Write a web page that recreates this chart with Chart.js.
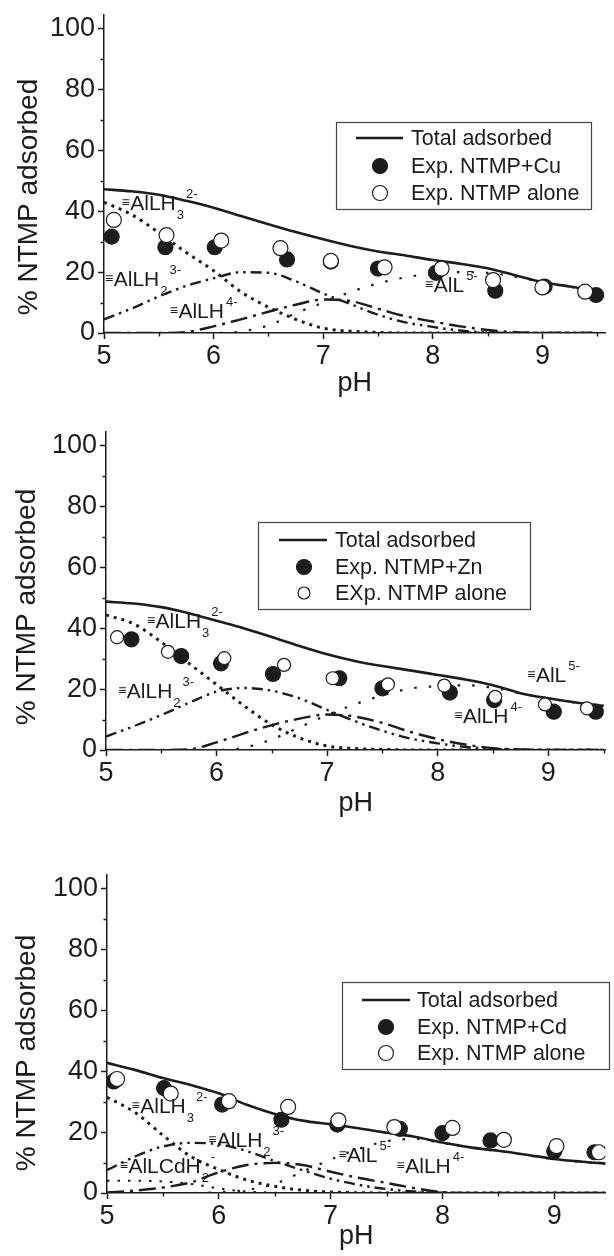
<!DOCTYPE html>
<html>
<head>
<meta charset="utf-8">
<script src="https://cdn.jsdelivr.net/npm/chart.js@4.4.1/dist/chart.umd.min.js"></script>
<style>
  body { margin: 0; background: #fff; }
  #page { position: relative; width: 614px; height: 1256px; overflow: hidden; background: #fff; }
  canvas { position: absolute; left: 0; }
</style>
</head>
<body>
<div id="page">
  <canvas id="cu"></canvas>
  <canvas id="zn"></canvas>
  <canvas id="cd"></canvas>
</div>
<script>
// pH grid used by the model curves
const pH = [5.0, 5.25, 5.5, 5.75, 6.0, 6.25, 6.5, 6.75, 7.0, 7.25, 7.5, 7.75, 8.0, 8.25, 8.5, 8.75, 9.0, 9.25, 9.5];

// --- Cu system ---
const cuTotal = [47.3, 46.6, 45.5, 43.5, 41.2, 38.5, 35.8, 33.2, 30.8, 28.6, 26.8, 25.5, 24.0, 22.8, 21.3, 19.0, 16.8, 15.3, 14.0];
const cuAlLH3 = [43.0, 39.0, 33.0, 26.5, 20.5, 13.5, 8.5, 4.5, 1.6, 0.6, 0.2, 0, 0, 0, 0, 0, 0, 0, 0];
const cuAlLH2 = [4.5, 8.0, 12.0, 15.5, 18.0, 20.0, 19.8, 17.0, 13.0, 9.5, 6.0, 3.5, 2.0, 0.8, 0.2, 0, 0, 0, 0];
const cuAlLH = [0, 0, 0, 0.3, 2.2, 4.5, 7.0, 9.3, 11.0, 10.5, 8.0, 5.5, 3.8, 2.2, 1.0, 0.3, 0, 0, 0];
const cuAlL = [0, 0, 0, 0, 0, 0.5, 2.5, 6.5, 10.0, 13.5, 16.3, 18.3, 19.5, 20.0, 19.8, 18.5, 16.7, 15.2, 14.0];
const cuExpPH = [5.07, 5.56, 6.01, 6.67, 7.07, 7.50, 8.03, 8.57, 9.02, 9.49];
const cuExp = [31.7, 28.2, 28.2, 24.2, 23.5, 21.2, 19.8, 13.9, 15.3, 12.5];
const cuAlonePH = [5.09, 5.57, 6.07, 6.61, 7.07, 7.56, 8.08, 8.55, 9.00, 9.39];
const cuAlone = [37.2, 32.2, 30.4, 27.9, 23.7, 21.6, 21.2, 17.4, 15.0, 13.6];
const cuLegend = ['Total adsorbed', 'Exp. NTMP+Cu', 'Exp. NTMP alone'];
const cuLabelBase = ['AlLH', 'AlLH', 'AlLH', 'AlL'];
const cuLabelSub = ['3', '2', '', ''];
const cuLabelSup = ['2-', '3-', '4-', '5-'];
const cuLabelPH = [5.16, 5.01, 5.60, 7.93];
const cuLabelPct = [40.5, 15.5, 4.9, 13.5];

// --- Zn system ---
const znTotal = [48.8, 48.2, 47.0, 45.0, 42.5, 40.0, 37.2, 34.2, 31.5, 29.3, 27.6, 26.2, 24.7, 23.2, 21.3, 18.7, 17.0, 15.6, 14.5];
const znAlLH3 = [44.4, 41.5, 35.5, 28.5, 21.5, 14.5, 8.3, 4.0, 1.3, 0.5, 0.2, 0, 0, 0, 0, 0, 0, 0, 0];
const znAlLH2 = [4.4, 7.8, 11.5, 15.5, 19.2, 20.4, 19.5, 17.0, 13.2, 9.5, 6.3, 3.8, 2.2, 1.0, 0.4, 0.1, 0, 0, 0];
const znAlLH = [0, 0, 0, 0.2, 2.5, 5.5, 8.2, 10.3, 11.7, 11.0, 8.9, 6.0, 3.6, 1.8, 0.6, 0.2, 0, 0, 0];
const znAlL = [0, 0, 0, 0, 0, 0.8, 3.5, 7.5, 11.5, 15.0, 18.0, 20.2, 21.0, 21.3, 20.5, 18.6, 17.0, 15.6, 14.5];
const znExpPH = [5.23, 5.68, 6.04, 6.51, 7.11, 7.50, 8.11, 8.51, 9.05, 9.43];
const znExp = [36.4, 30.9, 28.5, 25.0, 23.6, 20.3, 18.9, 16.4, 12.6, 12.6];
const znAlonePH = [5.10, 5.56, 6.07, 6.61, 7.05, 7.55, 8.06, 8.52, 8.97, 9.35];
const znAlone = [37.1, 32.3, 30.2, 28.0, 23.6, 21.6, 21.2, 17.5, 15.0, 13.7];
const znLegend = ['Total adsorbed', 'Exp. NTMP+Zn', 'EXp. NTMP alone'];
const znLabelBase = ['AlLH', 'AlLH', 'AlL', 'AlLH'];
const znLabelSub = ['3', '2', '', ''];
const znLabelSup = ['2-', '3-', '5-', '4-'];
const znLabelPH = [5.37, 5.11, 8.81, 8.15];
const znLabelPct = [40.1, 17.1, 22.4, 8.9];

// --- Cd system ---
const cdTotal = [42.8, 40.5, 37.8, 35.5, 32.8, 29.0, 26.0, 23.8, 22.6, 21.3, 19.8, 18.5, 16.6, 15.0, 13.9, 12.6, 11.2, 10.3, 9.6];
const cdAlLH3 = [31.5, 26.5, 19.0, 12.0, 7.7, 4.3, 2.2, 0.9, 0.3, 0.1, 0, 0, 0, 0, 0, 0, 0, 0, 0];
const cdAlLH2 = [7.5, 12.0, 15.3, 16.5, 16.0, 13.8, 10.5, 7.5, 4.7, 2.7, 1.3, 0.5, 0.1, 0, 0, 0, 0, 0, 0];
const cdAlLH = [0.2, 0.8, 1.8, 3.5, 6.8, 9.2, 9.9, 9.2, 7.0, 5.0, 3.3, 1.6, 0.3, 0, 0, 0, 0, 0, 0];
const cdAlL = [0, 0, 0, 0, 0.3, 1.0, 3.0, 7.0, 11.0, 14.5, 17.0, 17.8, 16.4, 15.0, 13.8, 12.5, 11.1, 10.2, 9.5];
const cdAlLCdH2 = [4.0, 4.0, 3.8, 3.0, 1.5, 0.5, 0.1, 0, 0, 0, 0, 0, 0, 0, 0, 0, 0, 0, 0];
const cdExpPH = [5.06, 5.51, 6.03, 6.56, 7.06, 7.62, 8.00, 8.43, 9.00, 9.36];
const cdExp = [36.7, 34.5, 29.1, 24.1, 22.5, 21.1, 19.7, 17.3, 13.7, 13.4];
const cdAlonePH = [5.09, 5.57, 6.09, 6.62, 7.07, 7.57, 8.09, 8.55, 9.02, 9.40];
const cdAlone = [37.5, 32.7, 30.2, 28.3, 23.9, 21.7, 21.4, 17.5, 15.4, 13.4];
const cdLegend = ['Total adsorbed', 'Exp. NTMP+Cd', 'Exp. NTMP alone'];
const cdLabelBase = ['AlLH', 'AlLH', 'AlLCdH', 'AlL', 'AlLH'];
const cdLabelSub = ['3', '2', '2', '', ''];
const cdLabelSup = ['2-', '3-', '-', '5-', '4-'];
const cdLabelPH = [5.22, 5.905, 5.114, 7.07, 7.59];
const cdLabelPct = [26.3, 15.1, 6.6, 10.2, 6.6];

const yTicks = [0, 20, 40, 60, 80, 100];
const yMinor = [10, 30, 50, 70, 90];
const xMinor = [5.5, 6.5, 7.5, 8.5, 9.5];

const INK = '#1c1c1c';
const FONT = "'Liberation Sans', Arial, sans-serif";
const PAD_TOP = 30;

// line styles for the species curves
const STYLE = {
  total: { dash: [], width: 2.6 },
  AlLH3: { dash: [3, 5], width: 3 },
  AlLH2: { dash: [11, 5, 2.5, 5, 2.5, 5], width: 2.4 },
  AlLH: { dash: [17, 6, 3, 6], width: 2.4 },
  AlL: { dash: [2.5, 12], width: 2.2 },
  AlLCdH2: { dash: [2.5, 8], width: 2 },
};

const toXY = (xs, ys) => xs.map((x, i) => ({ x, y: ys[i] }));

const drawChem = (ctx, x, y, base, sub, sup) => {
  ctx.textBaseline = 'alphabetic';
  ctx.textAlign = 'left';
  ctx.font = `14px ${FONT}`;
  ctx.fillText('≡', x, y - 3);
  x += ctx.measureText('≡').width + 0.5;
  ctx.font = `21px ${FONT}`;
  ctx.fillText(base, x, y);
  x += ctx.measureText(base).width + 1;
  ctx.font = `13px ${FONT}`;
  let supX = x + 1;
  if (sub) {
    ctx.fillText(sub, x, y + 9);
    supX = x + ctx.measureText(sub).width + 2;
  }
  if (sup) ctx.fillText(sup, supX, y - 12);
};

// minor ticks, rotated y title, species labels and the boxed legend
const paperPlugin = {
  id: 'paper',
  afterDraw(chart, args, opts) {
    const { ctx, chartArea: area } = chart;
    const xs = chart.scales.x, ys = chart.scales.y;
    ctx.save();
    ctx.strokeStyle = INK;
    ctx.lineWidth = 1.4;
    ctx.beginPath();
    xMinor.filter(v => v <= xs.max).forEach(v => {
      const px = Math.round(xs.getPixelForValue(v)) + 0.5;
      ctx.moveTo(px, area.bottom);
      ctx.lineTo(px, area.bottom + 3.5);
    });
    yMinor.forEach(v => {
      const py = Math.round(ys.getPixelForValue(v)) + 0.5;
      ctx.moveTo(area.left, py);
      ctx.lineTo(area.left - 3.5, py);
    });
    ctx.stroke();

    // y axis title
    ctx.fillStyle = INK;
    ctx.save();
    ctx.translate(opts.yTitle[0], opts.yTitle[1]);
    ctx.rotate(-Math.PI / 2);
    ctx.font = `28px ${FONT}`;
    ctx.textAlign = 'center';
    ctx.textBaseline = 'middle';
    ctx.fillText('% NTMP adsorbed', 0, 0);
    ctx.restore();

    // species labels
    opts.labels.base.forEach((b, i) => {
      drawChem(ctx, xs.getPixelForValue(opts.labels.ph[i]), ys.getPixelForValue(opts.labels.pct[i]),
        b, opts.labels.sub[i], opts.labels.sup[i]);
    });

    // legend box
    const lg = opts.legend;
    ctx.fillStyle = '#fff';
    ctx.fillRect(lg.box[0], lg.box[1], lg.box[2], lg.box[3]);
    ctx.strokeStyle = '#444';
    ctx.lineWidth = 1.2;
    ctx.strokeRect(lg.box[0] + 0.5, lg.box[1] + 0.5, lg.box[2], lg.box[3]);
    const total = chart.data.datasets.find(d => d.role === 'total');
    const filled = chart.data.datasets.find(d => d.role === 'filled');
    const open = chart.data.datasets.find(d => d.role === 'open');
    ctx.strokeStyle = INK;
    ctx.lineWidth = total.borderWidth;
    ctx.beginPath();
    ctx.moveTo(lg.line[0], lg.rows[0]);
    ctx.lineTo(lg.line[1], lg.rows[0]);
    ctx.stroke();
    ctx.lineWidth = 1.2;
    ctx.fillStyle = INK;
    ctx.beginPath();
    ctx.arc(lg.marker, lg.rows[1], lg.fillR, 0, Math.PI * 2);
    ctx.fill();
    ctx.stroke();
    ctx.fillStyle = '#fff';
    ctx.beginPath();
    ctx.arc(lg.marker, lg.rows[2], lg.openR, 0, Math.PI * 2);
    ctx.fill();
    ctx.stroke();
    ctx.fillStyle = INK;
    ctx.font = `21.5px ${FONT}`;
    ctx.textAlign = 'left';
    ctx.textBaseline = 'middle';
    [total, filled, open].forEach((d, i) => ctx.fillText(d.label, lg.text, lg.rows[i] + 1));
    ctx.restore();
  }
};

const buildPanel = (p) => {
  const canvas = document.getElementById(p.id);
  const canvasTop = p.top - PAD_TOP;
  const height = p.xTitleY - canvasTop + 22;
  canvas.width = 614;
  canvas.height = height;
  canvas.style.top = canvasTop + 'px';
  const chartBottom = p.bottom - canvasTop;
  const rel = (pt) => [pt[0], pt[1] - canvasTop];

  const curve = (label, values, style, order) => ({
    label, role: label === p.legend[0] ? 'total' : 'curve',
    data: toXY(pH, values), showLine: true, pointRadius: 0,
    borderColor: INK, borderWidth: style.width, borderDash: style.dash,
    borderCapStyle: 'butt', cubicInterpolationMode: 'monotone', order,
  });

  const datasets = [
    { label: p.legend[2], role: 'open', data: toXY(p.alonePH, p.alone), pointRadius: p.openR,
      pointBackgroundColor: '#fff', pointBorderColor: INK, pointBorderWidth: 1.2, order: 0 },
    { label: p.legend[1], role: 'filled', data: toXY(p.expPH, p.exp), pointRadius: p.fillR,
      pointBackgroundColor: INK, pointBorderColor: INK, pointBorderWidth: 1.2, order: 1 },
    curve(p.legend[0], p.total, STYLE.total, 2),
    ...p.species.map(s => curve(s.name, s.values, STYLE[s.name], 3)),
  ];

  return new Chart(canvas, {
    type: 'scatter',
    data: { datasets },
    options: {
      responsive: false,
      animation: false,
      layout: { padding: { top: PAD_TOP, left: 0, right: 0, bottom: 0 } },
      plugins: {
        legend: { display: false },
        tooltip: { enabled: false },
        paper: {
          yTitle: rel(p.yTitle),
          labels: p.labels,
          legend: {
            box: [p.box[0], p.box[1] - canvasTop, p.box[2], p.box[3]],
            line: p.legLine, marker: p.legMarker, text: p.legText,
            rows: p.legRows.map(r => r - canvasTop), fillR: p.legFillR, openR: p.legOpenR,
          },
        },
      },
      scales: {
        x: {
          type: 'linear', min: 5, max: p.xMax,
          afterFit: (s) => { s.height = height - chartBottom; },
          border: { color: INK, width: 1.5 },
          grid: { drawOnChartArea: false, drawTicks: true, tickLength: 6, tickColor: INK, tickWidth: 1.5 },
          ticks: { stepSize: 1, includeBounds: false, color: INK, padding: 1, maxRotation: 0,
            font: { family: FONT, size: 27 } },
          title: { display: true, text: 'pH', color: INK, font: { family: FONT, size: 27 },
            padding: { top: 0, bottom: 5.8 } },
        },
        y: {
          type: 'linear', min: 0, max: 104.6,
          afterFit: (s) => { s.width = p.left; },
          afterBuildTicks: (s) => { s.ticks = yTicks.map(v => ({ value: v })); },
          border: { color: INK, width: 1.5 },
          grid: { drawOnChartArea: false, drawTicks: true, tickLength: 6, tickColor: INK, tickWidth: 1.5 },
          ticks: { color: INK, padding: 3, font: { family: FONT, size: 27 } },
        },
      },
    },
    plugins: [paperPlugin],
  });
};

buildPanel({
  id: 'cu', top: 15, bottom: 333, left: 104, xMax: 9.574, xTitleY: 384, yTitle: [29, 197],
  total: cuTotal, expPH: cuExpPH, exp: cuExp, alonePH: cuAlonePH, alone: cuAlone,
  species: [
    { name: 'AlLH3', values: cuAlLH3 }, { name: 'AlLH2', values: cuAlLH2 },
    { name: 'AlLH', values: cuAlLH }, { name: 'AlL', values: cuAlL },
  ],
  labels: { base: cuLabelBase, sub: cuLabelSub, sup: cuLabelSup, ph: cuLabelPH, pct: cuLabelPct },
  legend: cuLegend, fillR: 7.5, openR: 7.5,
  box: [336, 122, 255, 87], legLine: [356, 403], legMarker: 380, legText: 411, legRows: [138, 166, 193],
  legFillR: 7.5, legOpenR: 7.5,
});

buildPanel({
  id: 'zn', top: 432, bottom: 750, left: 106, xMax: 9.516, xTitleY: 804, yTitle: [27, 607],
  total: znTotal, expPH: znExpPH, exp: znExp, alonePH: znAlonePH, alone: znAlone,
  species: [
    { name: 'AlLH3', values: znAlLH3 }, { name: 'AlLH2', values: znAlLH2 },
    { name: 'AlLH', values: znAlLH }, { name: 'AlL', values: znAlL },
  ],
  labels: { base: znLabelBase, sub: znLabelSub, sup: znLabelSup, ph: znLabelPH, pct: znLabelPct },
  legend: znLegend, fillR: 7.5, openR: 6.5,
  box: [258, 522, 272, 87], legLine: [279, 327], legMarker: 304, legText: 335, legRows: [540, 567, 593],
  legFillR: 7.5, legOpenR: 6,
});

buildPanel({
  id: 'cd', top: 875, bottom: 1193, left: 107, xMax: 9.457, xTitleY: 1237, yTitle: [27, 1053],
  total: cdTotal, expPH: cdExpPH, exp: cdExp, alonePH: cdAlonePH, alone: cdAlone,
  species: [
    { name: 'AlLH3', values: cdAlLH3 }, { name: 'AlLH2', values: cdAlLH2 },
    { name: 'AlLH', values: cdAlLH }, { name: 'AlL', values: cdAlL },
    { name: 'AlLCdH2', values: cdAlLCdH2 },
  ],
  labels: { base: cdLabelBase, sub: cdLabelSub, sup: cdLabelSup, ph: cdLabelPH, pct: cdLabelPct },
  legend: cdLegend, fillR: 7.5, openR: 7.5,
  box: [342, 982, 267, 87], legLine: [362, 410], legMarker: 386, legText: 417, legRows: [1000, 1027, 1053],
  legFillR: 7.5, legOpenR: 7.5,
});
</script>
</body>
</html>
